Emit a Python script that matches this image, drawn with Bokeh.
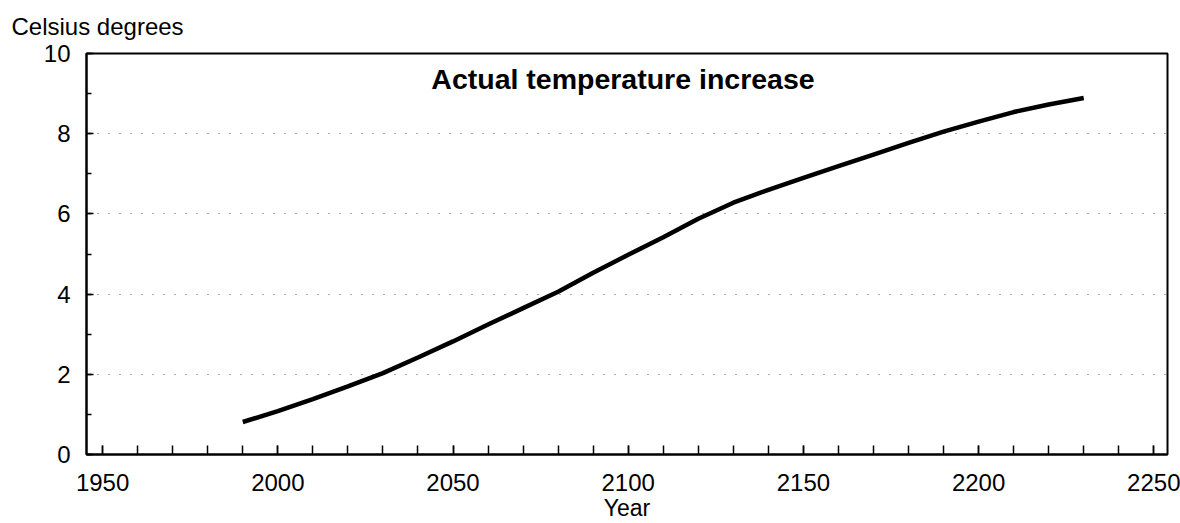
from bokeh.plotting import figure
from bokeh.models import Range1d, SingleIntervalTicker, Label
from bokeh.embed import file_html
from bokeh.resources import INLINE

# Data
years = [1990, 2000, 2010, 2020, 2030, 2040, 2050, 2060, 2070, 2080, 2090,
         2100, 2110, 2120, 2130, 2140, 2150, 2160, 2170, 2180, 2190, 2200,
         2210, 2220, 2230]
temperature = [0.81, 1.08, 1.38, 1.70, 2.03, 2.42, 2.82, 3.24, 3.65, 4.06, 4.53,
               4.98, 5.42, 5.88, 6.28, 6.60, 6.90, 7.19, 7.48, 7.77, 8.05, 8.30,
               8.54, 8.73, 8.89]

y_label = "Celsius degrees"
x_label = "Year"
chart_title = "Actual temperature increase"

FONT = "Liberation Sans"

p = figure(width=1180, height=523, output_backend="svg", toolbar_location=None,
           x_range=Range1d(1945.4, 2253.9), y_range=Range1d(0, 10),
           min_border_left=86, min_border_right=13, min_border_top=53,
           min_border_bottom=69, title=y_label)

p.background_fill_color = "white"
p.border_fill_color = "white"
p.outline_line_color = "black"
p.outline_line_width = 2

p.title.text_font = FONT
p.title.text_font_size = "24px"
p.title.text_font_style = "normal"
p.title.text_color = "black"
p.title.align = "left"
p.title.vertical_align = "top"
p.title.offset = -75
p.title.standoff = 23

# x axis
xa = p.xaxis[0]
xa.ticker = SingleIntervalTicker(interval=50, num_minor_ticks=5)
xa.major_tick_in = 9
xa.major_tick_out = 0
xa.minor_tick_in = 9
xa.minor_tick_out = 0
xa.major_tick_line_color = "black"
xa.minor_tick_line_color = "black"
xa.major_tick_line_width = 1.5
xa.minor_tick_line_width = 1.5
xa.axis_line_width = 2
xa.major_label_text_font = FONT
xa.major_label_text_font_size = "24px"
xa.major_label_text_color = "black"
xa.major_label_standoff = 19
xa.axis_label = x_label
xa.axis_label_text_font = FONT
xa.axis_label_text_font_size = "23px"
xa.axis_label_text_font_style = "normal"
xa.axis_label_text_color = "black"
xa.axis_label_standoff = 1

# y axis
ya = p.yaxis[0]
ya.ticker = SingleIntervalTicker(interval=2, num_minor_ticks=2)
ya.major_tick_in = 7
ya.major_tick_out = 0
ya.minor_tick_in = 5
ya.minor_tick_out = 0
ya.major_tick_line_color = "black"
ya.minor_tick_line_color = "black"
ya.major_tick_line_width = 1.5
ya.minor_tick_line_width = 1.5
ya.axis_line_width = 2
ya.major_label_text_font = FONT
ya.major_label_text_font_size = "24px"
ya.major_label_text_color = "black"
ya.major_label_standoff = 16

p.xgrid.grid_line_color = None
p.ygrid.grid_line_color = "#333333"
p.ygrid.grid_line_width = 1.2
p.ygrid.grid_line_dash = "1 10"
p.ygrid.grid_line_alpha = 0.8

p.line(years, temperature, line_color="black", line_width=4.5)

p.add_layout(Label(x=2098.5, y=9.37, text=chart_title, text_font=FONT,
                   text_font_size="28.5px", text_font_style="bold",
                   text_align="center", text_baseline="alphabetic",
                   text_color="black"))

open("out.html", "w").write(file_html(p, INLINE))
